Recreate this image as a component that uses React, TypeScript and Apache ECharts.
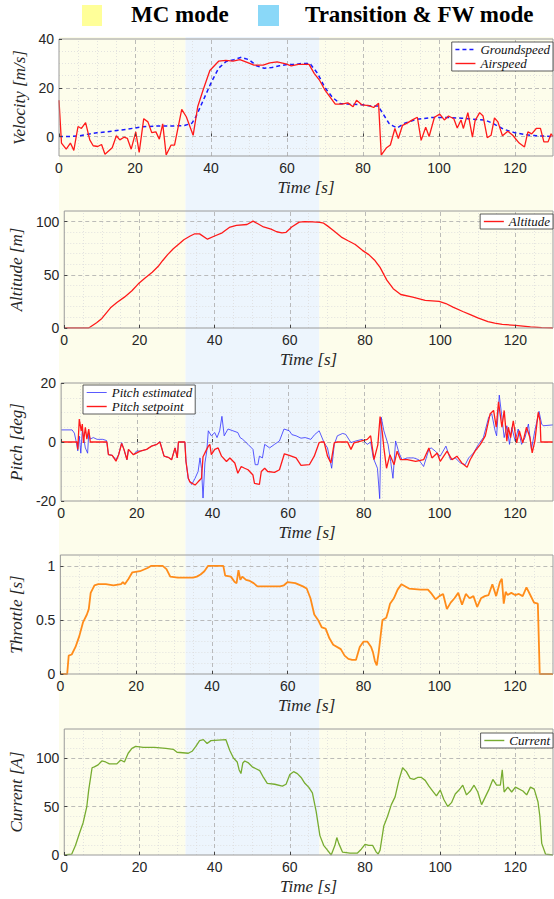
import React, { useEffect, useRef } from "react";
import * as echarts from "echarts";

// ---------- data ----------
const xTickLabels = [0, 20, 40, 60, 80, 100, 120];
const xMajorLines = [20, 40, 60, 80, 100, 120];
const xMinorLines = [5, 10, 15, 25, 30, 35, 45, 50, 55, 65, 70, 75, 85, 90, 95, 105, 110, 115, 125];

const modeBands = [
  { name: "MC mode", from: 0, to: 33.3 },
  { name: "Transition & FW mode", from: 33.3, to: 68.5 },
  { name: "MC mode", from: 68.5, to: 130 },
];

const groundspeed = [
  [0, 0], [3, 0], [5, 0.2], [8, 1], [10, 1.5], [14, 2.2], [18, 3], [22, 4], [26, 4.3], [30, 4.3],
  [33, 4.5], [35, 5.5], [36, 8], [38, 15], [40, 22], [42, 28], [44, 30.8], [46, 31.5], [48, 32.5],
  [50, 31.5], [52, 29], [54, 28], [56, 28.3], [58, 29], [60, 29.5], [62, 29.5], [64, 30], [66, 30],
  [67, 28], [68, 26], [70, 20], [72, 16], [74, 13.5], [76, 13.3], [80, 13], [82, 12.5], [84, 12.5],
  [85, 10], [87, 5], [89, 3.5], [91, 5.5], [94, 7], [98, 7.8], [102, 7.8], [106, 7.5], [110, 7],
  [112, 6.8], [114, 5.5], [117, 3], [120, 1.5], [124, 0.5], [127, 0.2], [130, 0],
];

const airspeedT = [0, 0.65, 1.9, 3, 3.9, 5, 5.9, 7, 8.1, 9, 10.2, 11.2, 12.1, 14, 15.1, 16, 17.1, 18, 19, 20.2, 21.1, 22.3, 23.4, 24.4, 25.5, 26.4, 27.3, 28.2, 29.5, 30.4, 32.3, 33.5, 35.3, 36.5, 37.9, 39.7, 42, 43.9, 45.8, 47.6, 49.5, 51.3, 53.7, 55.5, 57.4, 59.7, 61.1, 63, 65.8, 67.2, 68.6, 70, 71.3, 72.7, 74.4, 76, 77.4, 78.3, 79.7, 81.6, 82.8, 84.1, 84.8, 86.2, 87.2, 88.4, 89.3, 90.4, 91.5, 93, 94.3, 95.3, 96.5, 97.4, 98.8, 100.2, 101.4, 102.5, 103.9, 104.8, 105.8, 106.4, 107.6, 108.8, 109.5, 110.7, 111.6, 112.7, 113.7, 114.6, 115.5, 116.7, 118.1, 119.4, 121.1, 122.5, 123.4, 124.4, 125.6, 126.7, 127.6, 128.7, 129.5, 130];
const airspeedV = [14.9, -2.7, -5.2, -2.7, -5.7, 4.1, 3.3, 5.7, -1.4, -3.8, -4.1, -3.3, -7.3, -4.6, 0.3, -1.4, -0.3, -0.8, -5.2, 1.9, -6.5, 7.3, 6.0, 1.6, 1.9, -1.1, 5.2, -7.6, -3.5, -3.5, 11.1, 8.1, 0.5, 12.2, 19, 27.1, 30.9, 31.2, 30.9, 31.5, 30.4, 29.3, 29.3, 30.2, 30.6, 29.8, 29, 29.6, 29.6, 25.8, 23, 19, 16.3, 13.3, 13.3, 13.8, 12.2, 14.9, 13.0, 12.7, 11.9, 13.6, -7.6, -4.6, -3.5, 3.3, -0.8, 4.6, 5.4, 6.8, 7.9, -1.6, 3.8, 0, 7.9, 9.2, 6.8, 8.4, 7.3, 3.5, 6.8, 3.3, 9.8, -0.3, 6.5, 9.8, 8.4, -0.5, 0.5, 7.6, 6, 0.3, 2.2, 0.5, -2.7, -4.3, 1.9, 1.1, 3.3, 3.3, -2.2, -2.2, 1.1, 0];

const altitude = [
  [0, 0], [6.5, 0], [8.6, 5], [10, 9], [12.3, 19], [14, 24], [16, 29], [18, 35], [19.7, 41.5],
  [21.5, 47], [23.4, 52.5], [25, 58], [26.2, 63.5], [27.5, 69], [29, 74.5], [30.5, 79], [31.8, 83],
  [33.5, 86.5], [34.6, 88.4], [36, 88.5], [38.1, 83.5], [40, 86.5], [42, 89.5], [43.9, 94.5],
  [45.8, 96.5], [48.6, 97.3], [50.2, 100.5], [51.5, 98], [53, 95], [55, 93], [56.5, 90.5],
  [57.9, 89.5], [59, 90], [60.5, 95], [62.5, 99.5], [64, 100], [66, 99.7], [68, 99.3], [69, 98.5],
  [70, 96], [71.5, 92], [73.7, 85.5], [75.5, 82], [77.4, 78.5], [79.3, 73], [81, 69], [82.5, 64],
  [84, 57], [85.8, 45], [87.5, 37], [89.5, 31.5], [92.7, 29], [96, 26], [99.7, 25], [101.5, 23],
  [103.4, 19.7], [106, 15.5], [108, 12.5], [110, 9.5], [112.7, 6], [114.5, 4.5], [116.5, 3.4],
  [120, 2.5], [124, 1], [127, 0.3], [130, 0],
];

const pitchEstimated = [
  [0, 4.1], [2.9, 4.1], [3.5, 3], [4, 0], [4.4, -3], [4.8, 2], [5.2, -3.8], [5.6, 4], [6, 1], [6.4, -2],
  [7, -3.8], [7.3, 3], [7.7, 1], [8.5, 1.5], [9.5, 0.9], [11, 0.9], [12, 0.5], [12.5, -4.3],
  [13.5, -4.5], [14.5, -6], [15.2, -4.3], [16, -0.2], [16.6, -2.5], [17.4, -6], [17.8, -2.5],
  [19.1, -4.3], [20, -3], [20.9, -3.1], [22.6, -2.5], [23.9, -1.4], [25.3, -0.8], [26.1, 0.2],
  [27.2, -4.8], [28.3, -5.2], [29.2, -6], [30.1, -2], [30.7, -5.4], [31, 0], [32.7, 0], [33, -6.6],
  [33.6, -12.3], [34.5, -14.4], [35.4, -12.3], [36.2, -10], [36.7, -5.4], [37.1, -9], [37.5, -19],
  [38, -7.1], [38.5, -3], [38.9, 3.8], [39.7, 2.1], [40.6, 3.2], [41.2, 1.5], [41.9, 3.8], [42.5, 8.7],
  [43.1, 2.1], [44.1, 4.4], [45.4, 3.8], [46.7, 3.2], [47.3, 1.5], [48, 0.9], [49.4, -0.8],
  [50.7, -2.5], [51.3, -7.7], [52, -7.7], [52.4, -4.8], [53.2, -5.4], [53.8, -0.8], [55.1, -2],
  [56.4, -0.8], [57.7, 0.35], [58.9, 4.4], [60.3, 3.8], [61, 2.5], [62.1, 2.1], [63.4, 1.3],
  [64.5, 1.5], [66, 0.9], [67, 2.5], [68.2, 3.8], [69.5, -0.2], [70.4, -2], [71.5, -8.9], [72.2, -0.8],
  [73, 2.1], [74.4, 2.9], [75.2, 2.6], [76.6, -0.2], [77.9, 0.35], [79.6, 0.9], [80.9, -0.8],
  [81.8, 0], [82.5, -5.4], [83.6, -8.9], [84.2, -19.2], [84.6, 8.4], [85.3, 3.8], [86.4, -0.8],
  [87.1, -6.6], [87.7, -12.3], [88.4, 0.35], [89.3, -3.7], [90.1, -6], [91.5, -5.4], [93.2, -5.4],
  [94.5, -6], [95.8, -8.3], [97.2, -2.5], [97.8, -2], [98.9, -3.1], [100.2, -4.8], [101.7, -1.4],
  [102.9, -6], [104.2, -5.4], [105.5, -7.1], [106.8, -7.7], [107.7, -5.4], [109, -3.7], [110.3, -0.8],
  [111.6, 1.5], [113, 8.4], [113.8, 9.6], [114.7, 3.8], [115.1, 2.1], [115.8, 15.9], [116.5, 8.4],
  [117.1, 1.5], [117.8, 5.5], [118.5, -0.8], [119.1, 4.9], [120, 0.35], [120.8, 4.4], [121.7, -0.8],
  [122.6, 1.5], [123.5, 6.1], [124.3, -2.5], [125.2, 3.8], [126.3, 10.4], [127, 6.1], [127.4, 5.5],
  [130, 5.8],
];

const pitchSetpoint = [
  [0, 0], [4.2, 0], [4.4, -2.5], [4.8, 7.8], [5.3, 3.8], [5.6, 6.1], [5.9, -0.3], [6.4, 5], [6.8, 1],
  [7.3, 4.4], [7.7, 0], [12.1, 0], [12.5, -4.3], [13.5, -4.5], [14.5, -6.5], [15.2, -4.3], [16, -0.5],
  [16.6, -2.5], [17.4, -6], [17.8, -2.5], [19.1, -4.3], [20.9, -3.1], [22.6, -2.5], [23.9, -1.4],
  [25.3, -0.8], [26.1, 0], [27.2, -4.8], [28.3, -5.2], [29.2, -6], [30.1, -2], [30.7, -5.4], [31, 0],
  [32.7, 0], [33, -6.6], [33.6, -12.3], [34, -13.5], [35.4, -14.6], [36.2, -13.5], [37.1, -12.3],
  [37.5, -5], [38, -3.7], [38.9, -1.4], [39.3, -0.8], [39.7, -4.3], [40.6, -2.5], [41.5, -2],
  [42.4, -4.8], [43.7, -6.6], [44.6, -5.4], [45.9, -7.1], [46.7, -10.6], [47.6, -8.3], [48.5, -8.9],
  [49.4, -9.4], [50.7, -11.2], [51.1, -14], [52.4, -14.4], [52.9, -10], [53.8, -8.9], [54.6, -10],
  [56.4, -10.3], [57.7, -9.4], [59, -4], [60.3, -4.5], [62.1, -5.4], [63.4, -7.9], [65.6, -7.7],
  [66.9, -4.8], [68.2, -0.2], [68.7, 0], [69.5, 0], [70.4, -4.8], [71.3, -7.1], [72.2, -0.2], [73, 0],
  [75.7, 0], [76.6, -2.5], [77.4, -0.3], [79.2, 0.3], [80.9, 0.9], [81.8, 2.1], [82.7, -6], [83.7, -1],
  [84.3, 8.6], [84.9, 3], [85.3, -2], [86, -8.9], [86.9, -4.3], [88, -7.7], [88.8, -3.1], [89.7, -6],
  [91.5, -6], [93.7, -6.6], [95.8, -6], [97.2, -2], [98, -5.4], [99.4, -3.7], [100.2, -6.6],
  [102, -3.1], [103.3, -6], [104.6, -4.8], [105.9, -7.1], [107.3, -8.6], [108.1, -6], [109.4, -3.1],
  [110.8, -0.8], [112.1, 2.1], [113.4, 9.6], [114.3, 10.7], [115, 5], [115.6, 13.6], [116.5, 5],
  [117.1, 10.7], [117.8, 0.3], [118.2, 5], [118.8, 1.5], [119.5, 7.2], [120.4, -0.3], [121.1, 3.8],
  [122, -0.3], [123, 5], [123.9, 1.5], [124.5, -3.7], [125.2, 0.3], [126.1, 10.1], [126.6, 7],
  [126.8, 0], [130, 0],
];

const throttle = [
  [0, 0], [1.8, 0], [2.2, 0.17], [3, 0.18], [4, 0.25], [5, 0.35], [6, 0.48], [7, 0.55], [7.5, 0.6],
  [8, 0.75], [9, 0.82], [10, 0.83], [12, 0.83], [14, 0.82], [16, 0.83], [16.5, 0.85], [17, 0.83],
  [18, 0.88], [19, 0.94], [21, 0.95], [23, 0.98], [24, 1.0], [27, 1.0], [28, 0.97], [29, 0.9],
  [31, 0.89], [35, 0.89], [36, 0.9], [37, 0.92], [38, 0.95], [39, 1.0], [43, 1.0], [43.5, 0.91],
  [45, 0.9], [46, 0.85], [46.5, 0.84], [47, 0.96], [47.5, 0.87], [48, 0.9], [49, 0.87], [50, 0.86],
  [51, 0.84], [52, 0.81], [58, 0.81], [59, 0.82], [60, 0.85], [62, 0.84], [64, 0.81], [65, 0.79],
  [66, 0.7], [67, 0.55], [68, 0.5], [69, 0.43], [70, 0.42], [71, 0.33], [72, 0.27], [74, 0.23],
  [75, 0.17], [76, 0.14], [77, 0.13], [78, 0.13], [79, 0.25], [80, 0.3], [81, 0.3], [82, 0.25],
  [82.5, 0.2], [83, 0.12], [83.5, 0.08], [84, 0.2], [85, 0.5], [86, 0.52], [86.5, 0.58], [87, 0.65],
  [88, 0.7], [89, 0.78], [90, 0.83], [92, 0.79], [95, 0.78], [97, 0.78], [98, 0.74], [99, 0.69],
  [100, 0.72], [101, 0.74], [102, 0.6], [103, 0.66], [104, 0.7], [105, 0.75], [106, 0.64], [107, 0.74],
  [108, 0.7], [109, 0.72], [110, 0.62], [111, 0.7], [112, 0.72], [113, 0.73], [114, 0.83], [115, 0.72],
  [116, 0.85], [116.5, 0.88], [117, 0.65], [117.5, 0.76], [118, 0.73], [119, 0.75], [120, 0.73],
  [121, 0.74], [122, 0.72], [123, 0.8], [124, 0.73], [125, 0.66], [126, 0.65], [126.5, 0], [130, 0],
];

const current = [
  [0, 0], [2, 1], [3, 10], [4, 22], [5, 33], [6, 50], [6.5, 67], [7.4, 90], [8, 91], [9, 93], [10, 97],
  [11, 96], [12, 94], [14, 94], [15, 98], [16, 96], [17, 105], [18, 110], [19, 112], [21, 111],
  [24, 111], [27, 110], [29, 109], [30, 106], [33, 105], [34, 107], [35, 112], [36, 118], [37, 119],
  [38, 115], [39, 118], [43, 119], [44, 108], [45, 100], [46, 96], [46.5, 88], [47, 84], [47.5, 95],
  [48, 97], [49, 95], [50, 91], [51, 89], [52, 87], [53, 80], [54, 74], [56, 73], [58, 71], [59, 73],
  [60, 83], [61, 86], [62, 84], [63, 80], [64, 74], [65, 70], [66, 64], [67, 45], [68, 20], [69, 10],
  [70, 5], [71, 0], [72, 10], [72.5, 18], [73, 12], [74, 3], [76, 2], [78, 2], [79, 6], [80, 11],
  [81, 10], [82, 10], [83, 3], [83.5, 1], [84, 5], [85, 30], [86, 40], [87, 52], [88, 60], [89, 77],
  [90, 90], [91, 86], [92, 79], [93, 78], [94, 80], [95, 80], [96, 77], [97, 71], [98, 66], [99, 61],
  [100, 67], [101, 57], [102, 50], [103, 54], [104, 63], [105, 67], [106, 72], [107, 62], [108, 66],
  [109, 72], [110, 65], [111, 52], [112, 60], [113, 68], [114, 78], [115, 72], [116, 72], [116.5, 88],
  [117, 65], [118, 70], [119, 65], [120, 70], [122, 66], [123, 62], [124, 70], [125, 68], [126, 55],
  [126.5, 40], [127, 12], [128, 1], [130, 0],
];

// per-panel y axis setup
const velocityTicks = [0, 20, 40];
const velocityMajor = [0, 20];
const velocityMinor = [-5, 5, 10, 15, 25, 30, 35];
const altitudeTicks = [0, 50, 100];
const altitudeMajor = [50, 100];
const altitudeMinor = [10, 20, 30, 40, 60, 70, 80, 90];
const pitchTicks = [-20, 0, 20];
const pitchMajor = [0];
const pitchMinor = [-15, -10, -5, 5, 10, 15];
const throttleTicks = [0, 0.5, 1];
const throttleMajor = [0.5, 1];
const throttleMinor = [0.1, 0.2, 0.3, 0.4, 0.6, 0.7, 0.8, 0.9];
const currentTicks = [0, 50, 100];
const currentMajor = [50, 100];
const currentMinor = [10, 20, 30, 40, 60, 70, 80, 90, 110, 120];

// ---------- styles ----------
const YELLOW_BAND = "#fdfdeb";
const BLUE_BAND = "#edf5fd";
const YELLOW_SWATCH = "#ffff99";
const BLUE_SWATCH = "#8ad8f8";
const MAJOR = { color: "#ababab", width: 0.8, type: [4, 3] as any };
const MINOR = { color: "#dcdcdc", width: 0.8, type: [1, 2] as any };
const SERIF = "'Liberation Serif', 'Times New Roman', serif";
const SANS = "'Liberation Sans', Arial, Helvetica, sans-serif";

const zip = (t: number[], v: number[]) => t.map((x, i) => [x, v[i]]);

const panels = [
  { top: 39, height: 117, min: -8, max: 40, ticks: velocityTicks, major: velocityMajor, minor: velocityMinor, name: "Velocity [m/s]" },
  { top: 211, height: 117, min: 0, max: 110, ticks: altitudeTicks, major: altitudeMajor, minor: altitudeMinor, name: "Altitude [m]" },
  { top: 383, height: 118, min: -20, max: 20, ticks: pitchTicks, major: pitchMajor, minor: pitchMinor, name: "Pitch [deg]" },
  { top: 555, height: 119, min: 0, max: 1.1, ticks: throttleTicks, major: throttleMajor, minor: throttleMinor, name: "Throttle [s]" },
  { top: 729, height: 126, min: 0, max: 130, ticks: currentTicks, major: currentMajor, minor: currentMinor, name: "Current [A]" },
];

const GRID_LEFT = 59;
const GRID_WIDTH = 494;

function gridLineMark(p: any) {
  const data: any[] = [];
  xMinorLines.forEach((v) => data.push({ xAxis: v, lineStyle: MINOR }));
  p.minor.forEach((v: number) => data.push({ yAxis: v, lineStyle: MINOR }));
  xMajorLines.forEach((v) => data.push({ xAxis: v, lineStyle: MAJOR }));
  p.major.forEach((v: number) => data.push({ yAxis: v, lineStyle: MAJOR }));
  return {
    silent: true,
    symbol: ["none", "none"],
    label: { show: false },
    z: 1,
    animation: false,
    emphasis: { disabled: true },
    data,
  };
}

export default function App() {
  const ref = useRef<HTMLDivElement>(null);

  useEffect(() => {
    document.body.style.margin = "0";
    const chart = echarts.init(ref.current!, undefined, { renderer: "svg" });

    const grid: any[] = [
      { left: GRID_LEFT, width: GRID_WIDTH, top: 37, height: 818, show: false, z: 0 },
    ];
    const xAxis: any[] = [
      { gridIndex: 0, type: "value", min: 0, max: 130, show: false },
    ];
    const yAxis: any[] = [
      { gridIndex: 0, type: "value", min: 0, max: 1, show: false },
    ];
    const series: any[] = [
      {
        type: "line",
        name: "bands",
        xAxisIndex: 0,
        yAxisIndex: 0,
        data: [],
        silent: true,
        z: 0,
        markArea: {
          silent: true,
          z: 0,
          label: { show: false },
          data: modeBands.map((b) => [
            { xAxis: b.from, itemStyle: { color: b.name === "MC mode" ? YELLOW_BAND : BLUE_BAND } },
            { xAxis: b.to },
          ]),
        },
      },
    ];

    panels.forEach((p, i) => {
      const gi = i + 1;
      grid.push({
        left: GRID_LEFT,
        width: GRID_WIDTH,
        top: p.top,
        height: p.height,
        show: true,
        borderColor: "#9a9a9a",
        borderWidth: 1,
        backgroundColor: "transparent",
        z: 4,
      });
      xAxis.push({
        gridIndex: gi,
        type: "value",
        min: 0,
        max: 130,
        z: 6,
        name: "Time [s]",
        nameLocation: "middle",
        nameGap: 23,
        nameTextStyle: { fontFamily: SERIF, fontStyle: "italic", fontSize: 17, color: "#262626" },
        axisLine: { show: false },
        splitLine: { show: false },
        axisTick: { show: true, inside: true, length: 3, lineStyle: { color: "#444" }, customValues: xTickLabels },
        axisLabel: { show: true, fontFamily: SANS, fontSize: 14, color: "#262626", margin: 5, customValues: xTickLabels },
      });
      yAxis.push({
        gridIndex: gi,
        type: "value",
        min: p.min,
        max: p.max,
        z: 6,
        name: p.name,
        nameLocation: "middle",
        nameGap: 27,
        nameRotate: 90,
        nameTextStyle: { fontFamily: SERIF, fontStyle: "italic", fontSize: 17, color: "#262626" },
        axisLine: { show: false },
        splitLine: { show: false },
        axisTick: { show: true, inside: true, length: 3, lineStyle: { color: "#444" }, customValues: p.ticks },
        axisLabel: { show: true, fontFamily: SANS, fontSize: 14, color: "#262626", margin: 5, customValues: p.ticks },
      });
      series.push({
        type: "line",
        name: "grid" + gi,
        xAxisIndex: gi,
        yAxisIndex: gi,
        data: [],
        silent: true,
        z: 1,
        markLine: gridLineMark(p),
      });
    });

    const lineSeries = (name: string, idx: number, data: any[], color: string, width: number, type: any = "solid") => ({
      type: "line",
      name,
      xAxisIndex: idx,
      yAxisIndex: idx,
      data,
      symbol: "none",
      showSymbol: false,
      z: 3,
      color,
      lineStyle: { color, width, type },
      emphasis: { disabled: true },
    });

    series.push(lineSeries("Groundspeed", 1, groundspeed, "#1a1aff", 1.5, [4, 3]));
    series.push(lineSeries("Airspeed", 1, zip(airspeedT, airspeedV), "#ff1a1a", 1.3));
    series.push(lineSeries("Altitude", 2, altitude, "#ff1a1a", 1.3));
    series.push(lineSeries("Pitch estimated", 3, pitchEstimated, "#3030ff", 0.8));
    series.push(lineSeries("Pitch setpoint", 3, pitchSetpoint, "#ff1a1a", 1.3));
    series.push(lineSeries("Throttle", 4, throttle, "#ff8c1a", 1.8));
    series.push(lineSeries("Current", 5, current, "#77ac30", 1.3));

    const legendBase = {
      orient: "vertical",
      backgroundColor: "#ffffff",
      borderColor: "#333333",
      borderWidth: 0.8,
      borderRadius: 0,
      padding: [1, 3, 1, 3],
      itemGap: 1,
      itemWidth: 20,
      itemHeight: 14,
      selectedMode: false,
      z: 10,
      itemStyle: { opacity: 0 },
      lineStyle: { width: 1.4 },
      textStyle: { fontFamily: SERIF, fontStyle: "italic", fontSize: 13, color: "#111" },
    };

    chart.setOption({
      animation: false,
      grid,
      xAxis,
      yAxis,
      series,
      legend: [
        { ...legendBase, data: ["Groundspeed", "Airspeed"], right: 1, top: 42 },
        { ...legendBase, data: ["Altitude"], right: 1, top: 214 },
        {
          ...legendBase,
          data: [{ name: "Pitch estimated", lineStyle: { width: 0.8 } }, { name: "Pitch setpoint" }],
          left: 83,
          top: 385,
        },
        { ...legendBase, data: ["Current"], right: 1, top: 733 },
      ],
      graphic: [
        { type: "rect", left: 82, top: 5, shape: { width: 20, height: 21 }, style: { fill: YELLOW_SWATCH } },
        { type: "text", left: 131, top: 3, style: { text: "MC mode", font: `bold 23px ${SERIF}`, fill: "#000" } },
        { type: "rect", left: 258, top: 5, shape: { width: 21, height: 21 }, style: { fill: BLUE_SWATCH } },
        { type: "text", left: 305, top: 3, style: { text: "Transition & FW mode", font: `bold 23px ${SERIF}`, fill: "#000" } },
      ],
    });

    return () => chart.dispose();
  }, []);

  return <div ref={ref} style={{ width: 554, height: 899 }} />;
}
